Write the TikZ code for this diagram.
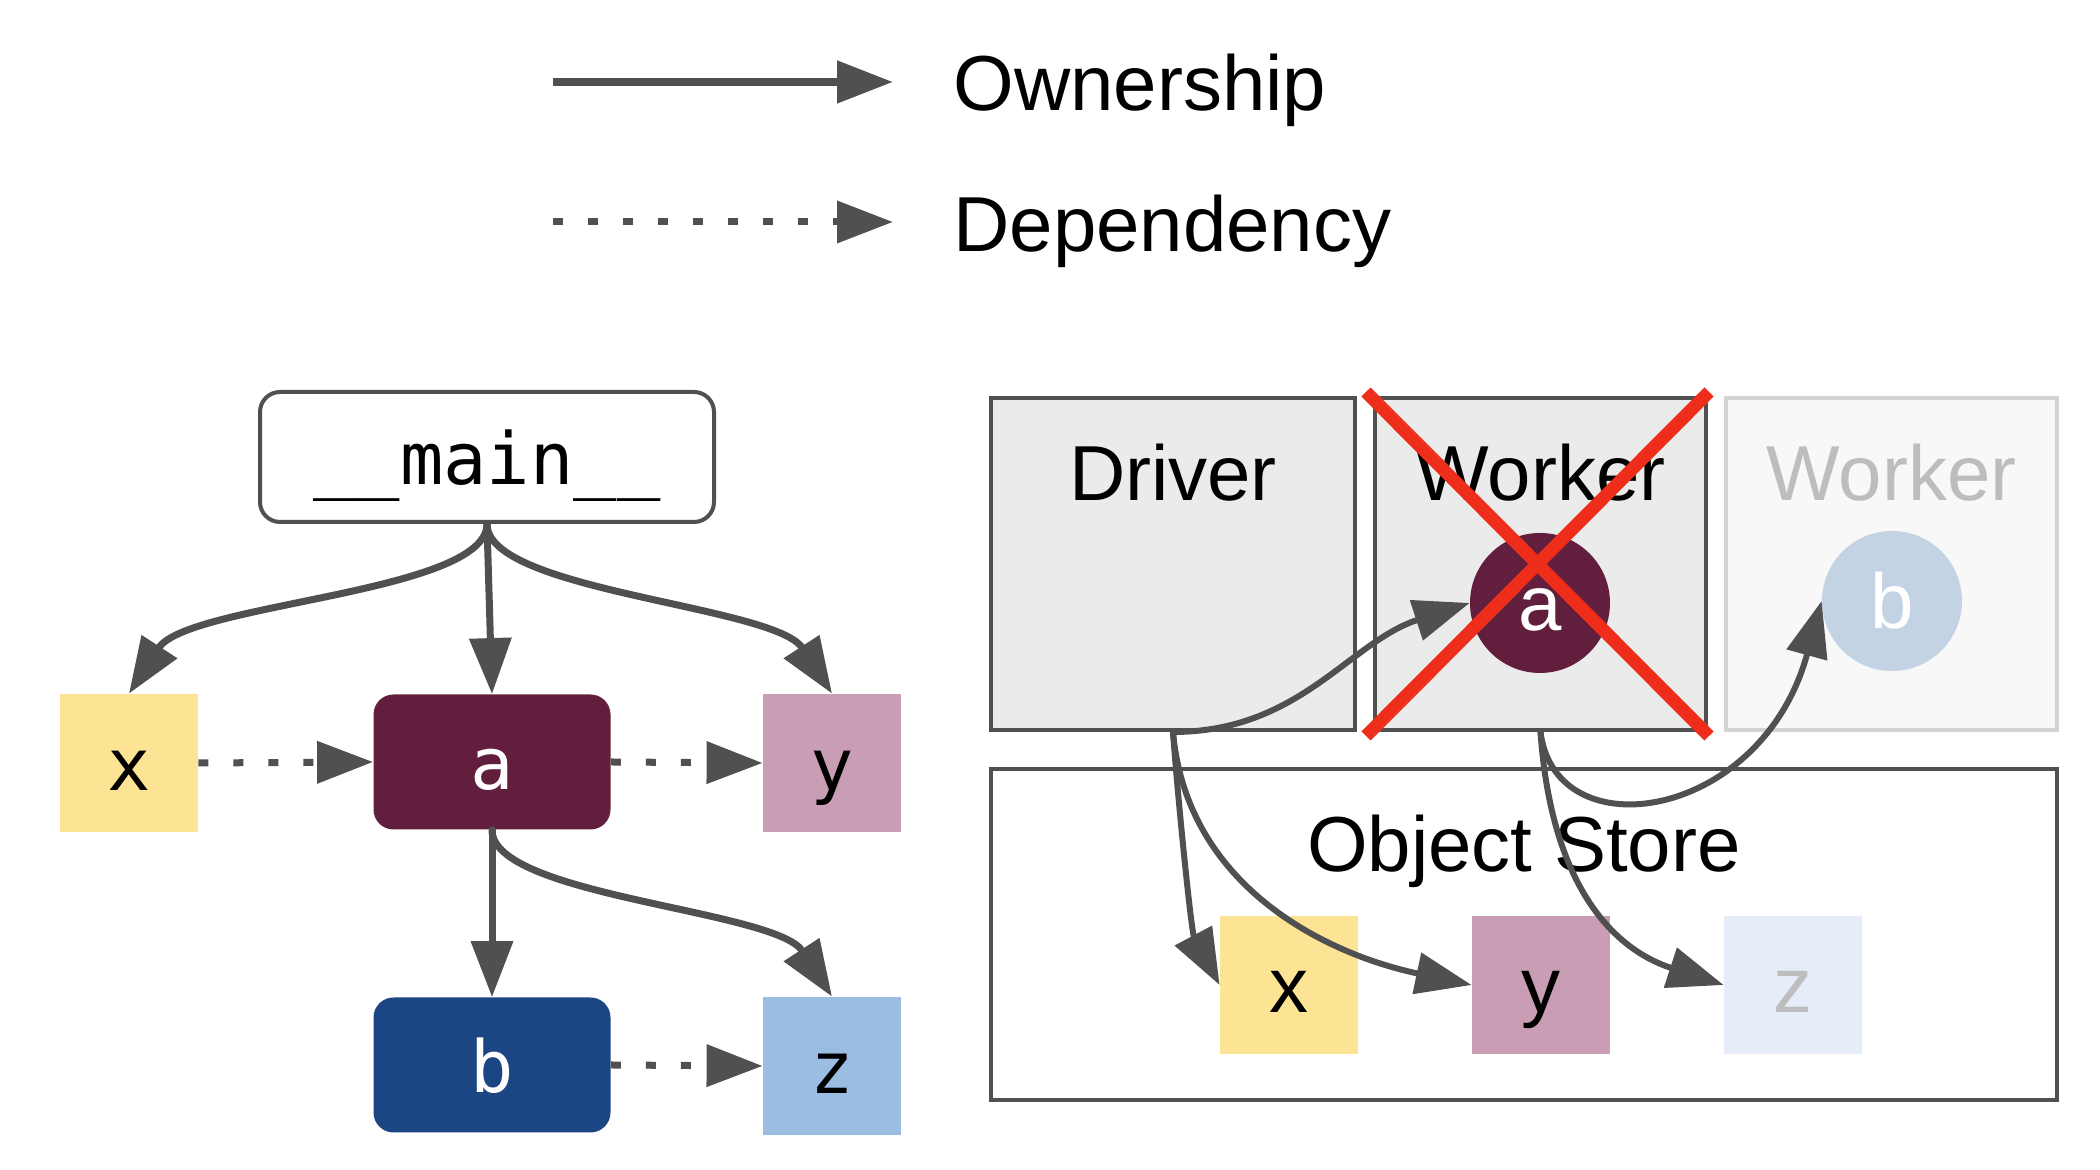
\documentclass[tikz,border=0pt]{standalone}
\usepackage{fontspec}
\setmainfont{Liberation Sans}
\newfontfamily\codefont{DejaVu Sans Mono}
\usetikzlibrary{arrows.meta}

\definecolor{linegray}{HTML}{505050}
\definecolor{procfill}{HTML}{EBEBEB}
\definecolor{fadefill}{HTML}{F8F8F8}
\definecolor{fadeline}{HTML}{D3D3D3}
\definecolor{fadetext}{HTML}{BDBDBD}
\definecolor{xcol}{HTML}{FDE494}
\definecolor{acol}{HTML}{611E3D}
\definecolor{ycol}{HTML}{C99DB3}
\definecolor{bcol}{HTML}{1C4584}
\definecolor{zcol}{HTML}{9CBDE2}
\definecolor{bfade}{HTML}{C3D3E3}
\definecolor{zfade}{HTML}{E6EDF8}
\definecolor{crossred}{HTML}{EE2E1B}

\tikzset{
  bigtext/.style={font=\fontsize{39}{44}\selectfont},
  codetext/.style={font=\codefont\fontsize{36}{40}\selectfont},
  lowtext/.style={text height=27.5pt, text depth=0pt},
  own/.style={line width=3.5pt, linegray, line cap=round, -{Triangle[length=28pt,width=20.5pt]}},
  dep/.style={own, line cap=butt, dash pattern=on 5pt off 12.5pt},
  objsq/.style={minimum size=69pt, inner sep=0pt, lowtext},
  task/.style={rounded corners=10pt, minimum width=118.5pt, minimum height=67.5pt, inner sep=0pt, text=white, codetext, lowtext},
  proc/.style={draw=linegray, line width=2pt, fill=procfill, minimum width=#1, minimum height=166pt},
  lbl/.style={anchor=north, inner sep=0pt, yshift=-24pt, bigtext},
  cross/.style={line width=6.5pt, crossred}
}

\begin{document}
\begin{tikzpicture}[x=0.5pt, y=0.5pt]
  \useasboundingbox (0,0) rectangle (2100,1170);

  % 图例
  \coordinate (own0) at (553,1088);
  \coordinate (own1) at (893,1088);
  \coordinate (dep0) at (553,948);
  \coordinate (dep1) at (893,948);
  \draw[own, line width=4pt, line cap=butt] (own0) -- (own1);
  \draw[dep] (dep0) -- (dep1);
  \node[anchor=base west, inner sep=0pt, bigtext] (ownlbl) at (953,1059) {Ownership};
  \node[anchor=base west, inner sep=0pt, bigtext] (deplbl) at (953,918) {Dependency};

  % 左边：调用图
  \node[draw=linegray, line width=2pt, rounded corners=10pt, minimum width=227pt, minimum height=65pt, codetext, lowtext] (main) at (487,713) {\_\_main\_\_};
  \node[objsq, fill=xcol, codetext] (x) at (129,407) {x};
  \node[task, fill=acol] (a) at (492,408) {a};
  \node[objsq, fill=ycol, codetext] (y) at (832,407) {y};
  \node[task, fill=bcol] (b) at (492,105) {b};
  \node[objsq, fill=zcol, codetext] (z) at (832,104) {z};

  \draw[own] (main.south) to[out=-90, in=57, out looseness=0.45, in looseness=0.7] (x.north);
  \draw[own] (main.south) -- (a.north);
  \draw[own] (main.south) to[out=-90, in=123, out looseness=0.45, in looseness=0.7] (y.north);
  \draw[own] (a.south) -- (b.north);
  \draw[own] (a.south) to[out=-90, in=123, out looseness=0.45, in looseness=0.7] (z.north);
  \foreach \s/\t in {x/a, a/y, b/z}
    \draw[dep] (\s.east) -- (\t.west);

  % 右边：进程和对象存储
  \node[proc=182pt, label={[lbl]north:Driver}] (driver) at (1173,606) {};
  \node[proc=165.5pt, label={[lbl]north:Worker}] (worker) at (1540.5,606) {};
  \node[proc=165.5pt, draw=fadeline, fill=fadefill, label={[lbl, text=fadetext]north:Worker}] (worker2) at (1891.5,606) {};
  \node[draw=linegray, line width=2pt, minimum width=533pt, minimum height=165.5pt, label={[lbl, yshift=0.5pt]north:Object Store}] (store) at (1524,235) {};

  \node[circle, fill=acol, minimum size=70pt, inner sep=0pt, text=white, bigtext, lowtext] (ca) at (1540,567) {a};
  \node[circle, fill=bfade, minimum size=70pt, inner sep=0pt, text=white, bigtext, lowtext] (cb) at (1892,569) {b};
  \node[objsq, fill=xcol, bigtext] (sx) at (1289,185) {x};
  \node[objsq, fill=ycol, bigtext] (sy) at (1541,185) {y};
  \node[objsq, fill=zfade, text=fadetext, bigtext] (sz) at (1793,185) {z};

  \draw[own, line width=3pt] (driver.south) to[out=0, in=198] (ca.west);
  \draw[own, line width=3pt] (driver.south) to[out=-86, in=118, looseness=0.6] (sx.west);
  \draw[own, line width=3pt] (driver.south) to[out=-85, in=168] (sy.west);
  \draw[own, line width=3pt] (worker.south) to[out=-86, in=162, out looseness=1.2] (sz.west);
  \draw[own, line width=3pt] (worker.south) .. controls +(15,-120) and +(-60,-220) .. (cb.west);

  % 红叉
  \draw[cross] (1366,778) -- (1709,434);
  \draw[cross] (1709,778) -- (1366,434);
\end{tikzpicture}
\end{document}
